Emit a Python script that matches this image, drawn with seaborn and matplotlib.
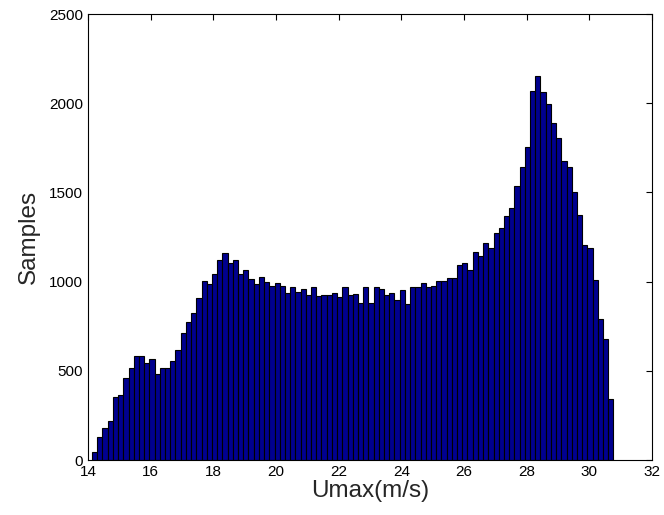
import numpy as np
import pandas as pd
import matplotlib
matplotlib.use("Agg")
import matplotlib.pyplot as plt
import seaborn as sns

# Histogram bin range (m/s) and counts per bin (100 bins)
bin_start = 14.128
bin_end = 30.77
counts = [
    43, 129, 181, 218, 351, 364, 459, 517, 581, 581,
    545, 568, 482, 517, 517, 555, 614, 713, 773, 825,
    909, 1006, 986, 1040, 1120, 1163, 1107, 1120, 1042, 1063,
    1012, 984, 1027, 995, 975, 992, 975, 934, 967, 939,
    960, 926, 967, 917, 926, 926, 934, 911, 967, 926,
    932, 881, 967, 881, 967, 960, 924, 937, 896, 954,
    874, 967, 967, 990, 967, 975, 1005, 1005, 1018, 1018,
    1091, 1105, 1063, 1165, 1141, 1215, 1186, 1274, 1303, 1369,
    1414, 1535, 1645, 1755, 2067, 2155, 2060, 1996, 1888, 1806,
    1677, 1645, 1500, 1376, 1203, 1186, 1007, 788, 676, 342,
]
xticks = [14, 16, 18, 20, 22, 24, 26, 28, 30, 32]
yticks = [0, 500, 1000, 1500, 2000, 2500]

nb = len(counts)
edges = np.linspace(bin_start, bin_end, nb + 1)
centers = (edges[:-1] + edges[1:]) / 2
df = pd.DataFrame({"Umax": centers, "count": counts})

sns.set_style("white")
plt.rcParams['font.family'] = ['Liberation Sans', 'DejaVu Sans']

fig = plt.figure(figsize=(6.64, 5.15), dpi=100)
ax = fig.add_axes([88/664, 55/515, (652-88)/664, (460-14)/515])

sns.histplot(data=df, x="Umax", weights="count", bins=nb,
             binrange=(bin_start, bin_end), ax=ax,
             color=(0, 0, 0.5625), alpha=1.0, edgecolor="black", linewidth=0.8)

ax.set_xlim(14, 32)
ax.set_ylim(0, 2500)
ax.set_xticks(xticks)
ax.set_yticks(yticks)
ax.tick_params(direction="in", length=4, width=0.8, labelsize=11,
               top=True, right=True, colors="black")
for s in ax.spines.values():
    s.set_visible(True)
    s.set_color("black")
    s.set_linewidth(0.8)
ax.set_xlabel("Umax(m/s)", fontsize=17.5, labelpad=1)
ax.set_ylabel("Samples", fontsize=17.5, labelpad=7)

fig.savefig("out.png", dpi=100)
